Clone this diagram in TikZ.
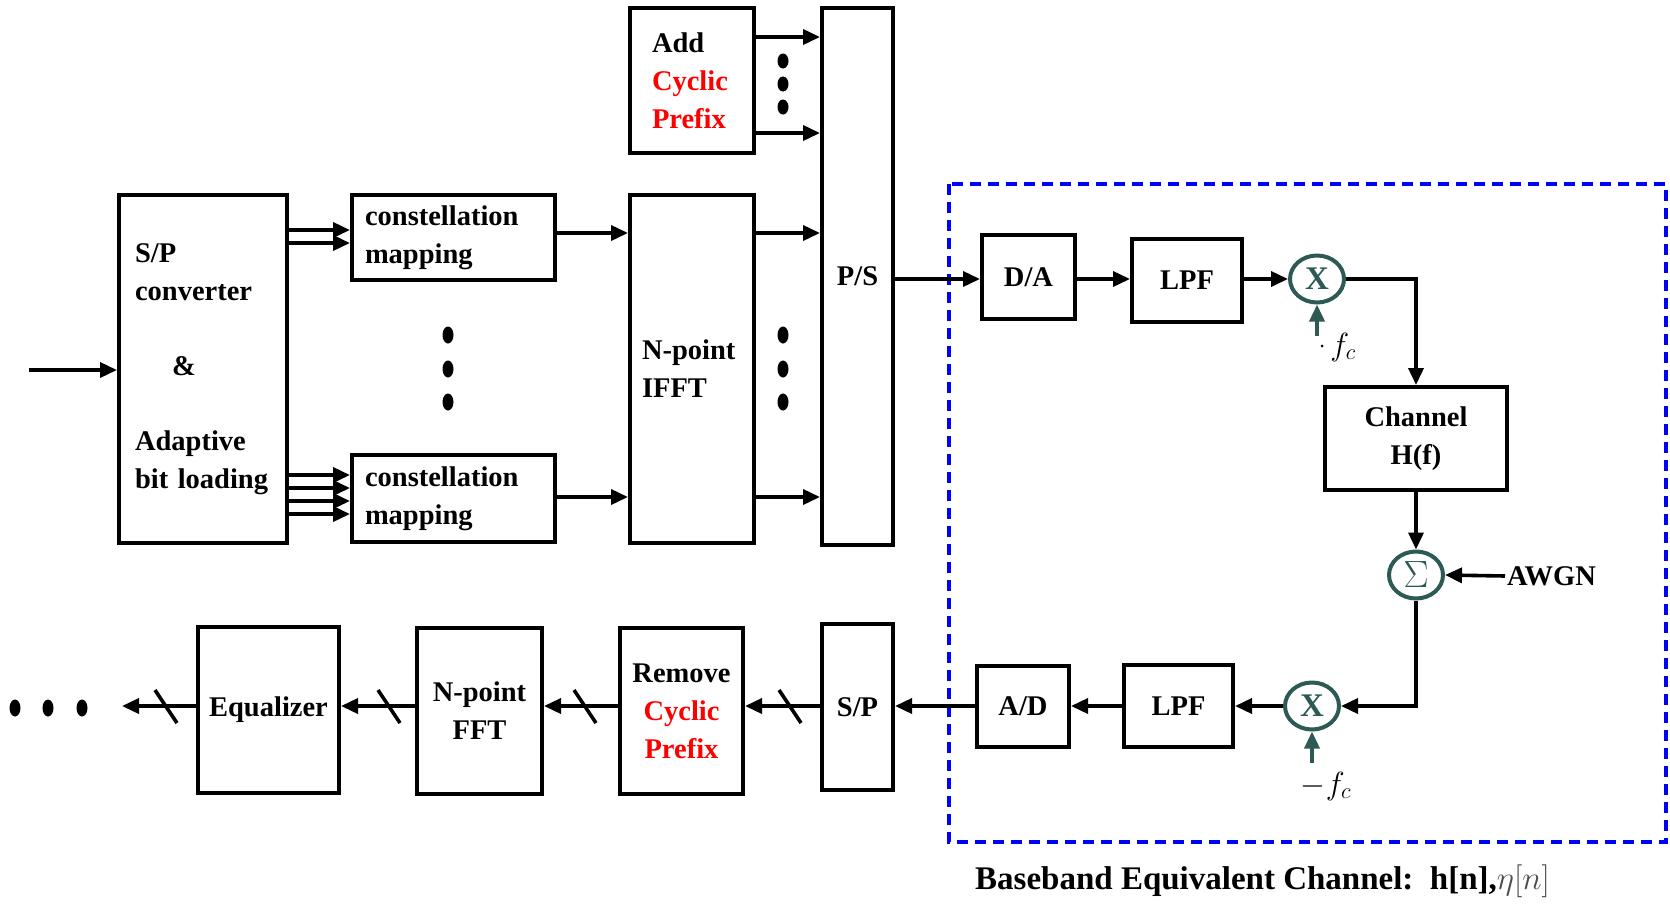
\RequirePackage{fix-cm}
\documentclass[tikz,border=0pt]{standalone}
\usepackage{fontspec}
\setmainfont{Liberation Serif}
\usetikzlibrary{arrows.meta,shapes.geometric,calc}
\definecolor{mixteal}{RGB}{45,90,85}
\definecolor{cpred}{RGB}{255,0,0}
\definecolor{chblue}{RGB}{0,0,255}
\newcommand{\cpr}[1]{\textcolor{cpred}{#1}}
\begin{document}
\begin{tikzpicture}[x=1pt,y=-1pt,
  txt/.style={font=\fontsize{28.5}{38}\selectfont\bfseries},
  box/.style={draw, line width=4pt, inner sep=0pt, txt},
  mixer/.style={ellipse, draw=mixteal, line width=4pt, minimum width=54pt, minimum height=47pt, inner sep=0pt, text=mixteal, font=\fontsize{33}{35}\selectfont\bfseries},
  conn/.style={line width=3.6pt},
  arr/.style={conn, -{Triangle[length=17pt,width=15pt]}},
  tarr/.style={conn, draw=mixteal, -{Triangle[length=17pt,width=15pt]}},
  dot/.style={fill=black}
]
\useasboundingbox (0,0) rectangle (1670,905);
\fill[white] (0,0) rectangle (1670,905);

% transmitter
\node[box, minimum width=168pt, minimum height=348pt, text width=136pt, inner xsep=16pt, align=left] (spc) at (203,369)
  {S/P\\converter\\[37pt]\hspace*{37pt}\&\\[37pt]Adaptive\\bit loading};
\node[box, minimum width=203pt, minimum height=85pt, text width=177pt, inner xsep=13pt, align=left] (cm1) at (453.5,237.5)
  {constellation\\mapping};
\node[box, minimum width=203pt, minimum height=87pt, text width=177pt, inner xsep=13pt, align=left] (cm2) at (453.5,498.5)
  {constellation\\mapping};
\node[box, minimum width=124pt, minimum height=348pt, text width=100pt, inner xsep=12pt, align=left] (ifft) at (692,369)
  {N-point\\IFFT};
\node[box, minimum width=124pt, minimum height=145pt, text width=80pt, inner xsep=22pt, align=left] (acp) at (692,80.5)
  {Add\\\cpr{Cyclic}\\\cpr{Prefix}};
\node[box, minimum width=71pt, minimum height=537pt] (ps) at (857.5,276.5) {P/S};

% channel
\node[box, minimum width=93pt, minimum height=84pt] (da) at (1028.5,277) {D/A};
\node[box, minimum width=110pt, minimum height=83pt] (lpf1) at (1187,280.5) {LPF};
\node[mixer] (mix1) at (1317,279) {X};
\node[box, minimum width=182pt, minimum height=103pt, align=center] (chan) at (1416,438.5) {Channel\\H(f)};
\node[mixer, font=\fontsize{38}{40}\selectfont] (sum) at (1416,575) {$\Sigma$};
\node[txt, anchor=west, inner sep=2pt] (awgn) at (1505,576) {AWGN};
\node[mixer] (mix2) at (1312,706) {X};
\node[box, minimum width=109pt, minimum height=82pt] (lpf2) at (1178.5,706) {LPF};
\node[box, minimum width=92pt, minimum height=81pt] (ad) at (1023,706) {A/D};

% receiver
\node[box, minimum width=71pt, minimum height=166pt] (sp2) at (857.5,707) {S/P};
\node[box, minimum width=123pt, minimum height=166pt, align=center] (rcp) at (681.5,711)
  {Remove\\\cpr{Cyclic}\\\cpr{Prefix}};
\node[box, minimum width=125pt, minimum height=166pt, align=center] (fft) at (479.5,711) {N-point\\FFT};
\node[box, minimum width=141pt, minimum height=166pt] (eq) at (268.5,710) {Equalizer};

% labels
\coordinate (fc1) at (1317,336);
\coordinate (fc2) at (1312,763);
\node[font=\fontsize{32}{36}\selectfont, inner sep=0pt] (fclab1) at (1343,347) {$f_c$};
\fill (1322,346) circle (1.5pt);
\node[font=\fontsize{32}{36}\selectfont, inner sep=0pt] (fclab2) at (1326,786) {$-f_c$};
\node[anchor=base west, inner sep=0pt, font=\fontsize{33}{40}\selectfont\bfseries] (cap) at (975,889)
  {Baseband Equivalent Channel:\ \ h[n],{\color{black!70}\mdseries$\eta[n]$}};

% dashed channel frame
\draw[chblue, line width=3.2pt, dash pattern=on 11pt off 7pt] (949,184) rectangle (1666,842);

% connectors: transmitter
\coordinate (in) at (29,370);
\draw[arr] (in) -- (in -| spc.west);
\foreach \y in {230,243} \draw[arr] (spc.east |- 0,\y) -- (cm1.west |- 0,\y);
\foreach \y in {475,488,501,514} \draw[arr] (spc.east |- 0,\y) -- (cm2.west |- 0,\y);
\draw[arr] (cm1.east |- 0,233) -- (ifft.west |- 0,233);
\draw[arr] (cm2.east |- 0,497) -- (ifft.west |- 0,497);
\draw[arr] (ifft.east |- 0,233) -- (ps.west |- 0,233);
\draw[arr] (ifft.east |- 0,497) -- (ps.west |- 0,497);
\draw[arr] (acp.east |- 0,37) -- (ps.west |- 0,37);
\draw[arr] (acp.east |- 0,133) -- (ps.west |- 0,133);

% connectors: channel
\draw[arr] (ps.east |- mix1) -- (da.west |- mix1);
\draw[arr] (da.east |- mix1) -- (lpf1.west |- mix1);
\draw[arr] (lpf1.east |- mix1) -- (mix1.west);
\draw[arr] (mix1.east) -| (chan.north);
\draw[tarr] (fc1) -- (mix1.south);
\draw[arr] (chan.south) -- (sum.north);
\draw[arr] (awgn.west) -- (sum.east);
\draw[arr] (sum.south) |- (mix2.east);
\draw[tarr] (fc2) -- (mix2.south);
\draw[arr] (mix2.west) -- (lpf2.east |- mix2);
\draw[arr] (lpf2.west |- mix2) -- (ad.east |- mix2);
\draw[arr] (ad.west |- mix2) -- (sp2.east |- mix2);

% connectors: receiver
\coordinate (out) at (122,706);
\draw[arr] (sp2.west |- mix2) -- (rcp.east |- mix2);
\draw[arr] (rcp.west |- mix2) -- (fft.east |- mix2);
\draw[arr] (fft.west |- mix2) -- (eq.east |- mix2);
\draw[arr] (eq.west |- mix2) -- (out);
\foreach \x in {166,389,585,790} \draw[conn] (\x-11,690) -- (\x+11,723);

% ellipsis dots
\foreach \y in {335,369,402} {
  \fill[dot] (448,\y) ellipse [x radius=5.5pt, y radius=8.5pt];
  \fill[dot] (783,\y) ellipse [x radius=5.5pt, y radius=8.5pt];
}
\foreach \y in {61,84,107} \fill[dot] (783,\y) ellipse [x radius=5.5pt, y radius=7.5pt];
\foreach \x in {15,48,82} \fill[dot] (\x,708) ellipse [x radius=5.5pt, y radius=8.5pt];
\end{tikzpicture}
\end{document}
